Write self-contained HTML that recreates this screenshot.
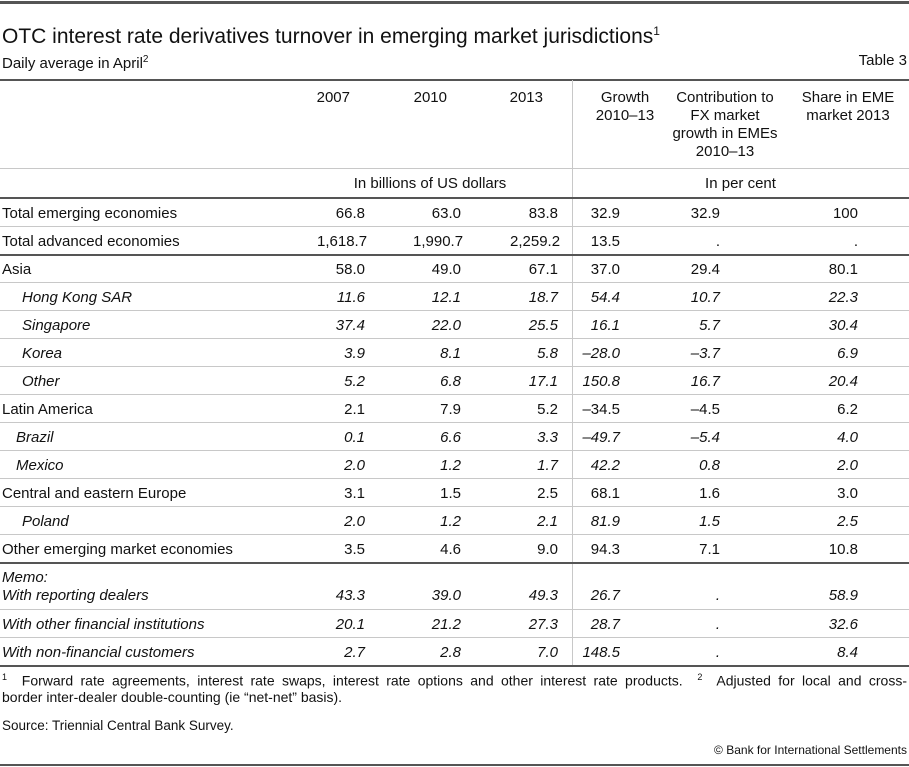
<!DOCTYPE html>
<html><head><meta charset="utf-8"><style>
body{margin:0;width:909px;height:767px;background:#fff;font-family:"Liberation Sans",Arial,sans-serif;color:#111;position:relative;overflow:hidden}
.a{position:absolute;white-space:nowrap;font-size:15px;line-height:18px}
.r{text-align:right}
.c{text-align:center}
.hl{position:absolute;left:0;width:909px;height:1px;background:#c8c8c8}
.dk{background:#555;height:2px}
</style></head><body>
<div class="hl dk" style="top:1px;height:3px"></div>
<div class="a" style="left:2px;top:19px;font-size:21px;line-height:24px">OTC interest rate derivatives turnover in emerging market jurisdictions<sup style="font-size:12px">1</sup></div>
<div class="a" style="left:2px;top:51px">Daily average in April<sup style="font-size:10px">2</sup></div>
<div class="a r" style="right:2px;top:52px">Table 3</div>
<div class="hl dk" style="top:79px"></div>
<div style="position:absolute;left:572px;top:80px;width:1px;height:586px;background:#c8c8c8"></div>
<div class="a r" style="left:300px;width:50px;top:89px">2007</div>
<div class="a r" style="left:397px;width:50px;top:89px">2010</div>
<div class="a r" style="left:493px;width:50px;top:89px">2013</div>
<div class="a c" style="left:580px;width:90px;top:89px">Growth<br>2010–13</div>
<div class="a c" style="left:665px;width:120px;top:89px">Contribution to<br>FX market<br>growth in EMEs<br>2010–13</div>
<div class="a c" style="left:788px;width:120px;top:89px">Share in EME<br>market 2013</div>
<div class="hl" style="top:168px"></div>
<div class="a c" style="left:300px;width:260px;top:175px">In billions of US dollars</div>
<div class="a c" style="left:572px;width:337px;top:175px">In per cent</div>
<div id="rows"></div>
<div class="a" style="left:2px;top:668px;font-size:14px;line-height:19px;width:905px;white-space:normal;text-align:justify;text-align-last:justify"><sup style="font-size:9px">1</sup>&nbsp; Forward rate agreements, interest rate swaps, interest rate options and other interest rate products.&nbsp; <sup style="font-size:9px">2</sup>&nbsp; Adjusted for local and cross-</div>
<div class="a" style="left:2px;top:688px;font-size:14px;line-height:19px">border inter-dealer double-counting (ie “net-net” basis).</div>
<div class="a" style="left:2px;top:717px;font-size:13.5px">Source: Triennial Central Bank Survey.</div>
<div class="a r" style="right:2px;top:741px;font-size:12px">© Bank for International Settlements</div>
<div class="hl dk" style="top:764px"></div>
<script>
const labels=["Total emerging economies","Total advanced economies","Asia","Hong Kong SAR","Singapore","Korea","Other","Latin America","Brazil","Mexico","Central and eastern Europe","Poland","Other emerging market economies","With reporting dealers","With other financial institutions","With non-financial customers"];
const v2007=["66.8","1,618.7","58.0","11.6","37.4","3.9","5.2","2.1","0.1","2.0","3.1","2.0","3.5","43.3","20.1","2.7"];
const v2010=["63.0","1,990.7","49.0","12.1","22.0","8.1","6.8","7.9","6.6","1.2","1.5","1.2","4.6","39.0","21.2","2.8"];
const v2013=["83.8","2,259.2","67.1","18.7","25.5","5.8","17.1","5.2","3.3","1.7","2.5","2.1","9.0","49.3","27.3","7.0"];
const growth=["32.9","13.5","37.0","54.4","16.1","–28.0","150.8","–34.5","–49.7","42.2","68.1","81.9","94.3","26.7","28.7","148.5"];
const contrib=["32.9",".","29.4","10.7","5.7","–3.7","16.7","–4.5","–5.4","0.8","1.6","1.5","7.1",".",".","."];
const share=["100",".","80.1","22.3","30.4","6.9","20.4","6.2","4.0","2.0","3.0","2.5","10.8","58.9","32.6","8.4"];
const indent=[0,0,0,20,20,20,20,0,14,14,0,20,0,0,0,0];
const italic=[0,0,0,1,1,1,1,0,1,1,0,1,0,1,1,1];
const tops=[198,226,254,282,310,338,366,394,422,450,478,506,534,581,609,637];
const dark={1:1,12:1};
const root=document.getElementById('rows');
function mk(cls,style,text){const d=document.createElement('div');d.className=cls;d.style.cssText=style;d.textContent=text;root.appendChild(d);return d;}
let l0=mk('hl dk','top:197px','');


let memo=mk('a','left:2px;top:569px;font-style:italic','Memo:');


const cols=[[v2007,317],[v2010,413],[v2013,510],[growth,572],[contrib,672],[share,810]];
labels.forEach((lab,i)=>{
  const t=tops[i]+(i===13?6:7), it=italic[i]?'font-style:italic;':'';
  const slug=lab.toLowerCase().replace(/[^a-z]+/g,'-');
  const L=mk('a','left:'+(2+indent[i])+'px;top:'+t+'px;'+it,lab);
  
  
  cols.forEach((c,j)=>{
    const d=mk('a r','left:'+c[1]+'px;width:48px;top:'+t+'px;'+it,c[0][i]);
    
    
  });
  const y=tops[i]+28;
  const ln=mk('hl'+((dark[i]||i===15)?' dk':''),'top:'+(i===12?562:y)+'px','');
  
  
});
</script>
</body></html>
